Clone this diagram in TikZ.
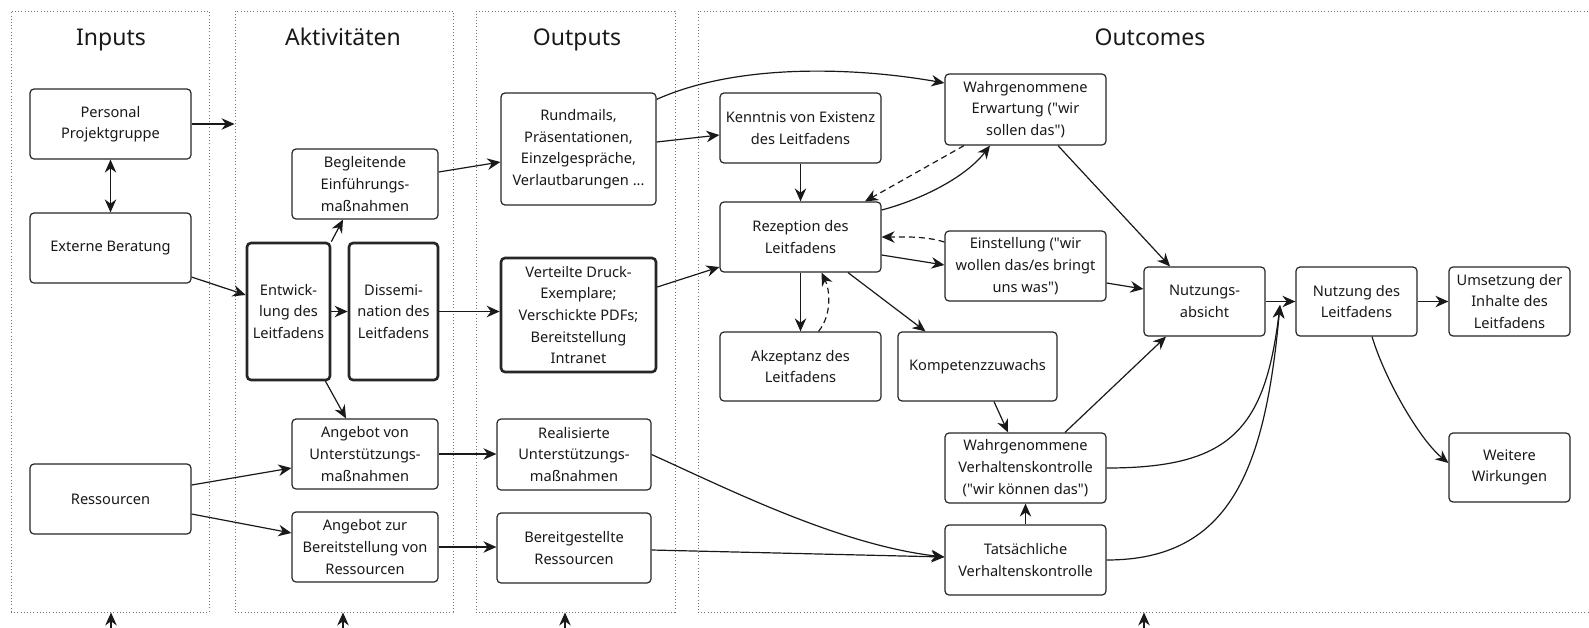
\documentclass[tikz,border=0pt]{standalone}
\usepackage{fontspec}
\setmainfont{Noto Sans}[Ligatures=TeXOff]
\usetikzlibrary{arrows.meta}

\begin{document}
\begin{tikzpicture}[x=1pt,y=-1pt,
  font=\fontsize{14.6}{21.6}\selectfont,
  box/.style 2 args={draw=black!85, line width=1.2pt, rounded corners=4pt,
    minimum width=#1pt, minimum height=#2pt, inner sep=0pt, align=center,
    text=black!90, fill=white},
  heavy/.style={line width=2.6pt},
  panel/.style={draw=black!55, line width=0.9pt, dash pattern=on 1pt off 2.2pt,
    inner sep=0pt, minimum width=#1},
  title/.style={font=\fontsize{23}{28}\selectfont, text=black!90, anchor=base},
  conn/.style={line width=1.2pt, draw=black!90,
    -{Stealth[length=13pt,width=11.5pt,inset=4.2pt]}},
  both/.style={line width=1.2pt, draw=black!90,
    {Stealth[length=13pt,width=11.5pt,inset=4.2pt]}-{Stealth[length=13pt,width=11.5pt,inset=4.2pt]}},
  dconn/.style={conn, dash pattern=on 6pt off 4pt},
]
\useasboundingbox (0,0) rectangle (1589,627);
\clip (0,0) rectangle (1589,627);

% column frames
\node[panel=198pt, minimum height=601pt] (pIn)  at (110,311.5) {};
\node[panel=218pt, minimum height=601pt] (pAk)  at (344,311.5) {};
\node[panel=199pt, minimum height=601pt] (pOut) at (575.5,311.5) {};
\node[panel=922pt, minimum height=601pt] (pOc)  at (1159,311.5) {};

% column titles
\node[title] (tIn)  at (111,45)  {Inputs};
\node[title] (tAk)  at (343,45)  {Aktivitäten};
\node[title] (tOut) at (577,45)  {Outputs};
\node[title] (tOc)  at (1150,45) {Outcomes};

% inputs
\node[box={161}{70}] (pers) at (110.5,124) {Personal\\Projektgruppe};
\node[box={161}{70}] (ext)  at (110.5,248) {Externe Beratung};
\node[box={161}{70}] (res)  at (110.5,499) {Ressourcen};

% activities
\node[box={146}{70}] (begl) at (365,184) {Begleitende\\Einführungs-\\maßnahmen};
\node[box={83}{137}, heavy] (entw) at (288.5,311.5) {Entwick-\\lung des\\Leitfadens};
\node[box={89}{137}, heavy] (diss) at (393.5,311.5) {Dissemi-\\nation des\\Leitfadens};
\node[box={146}{70}] (angU) at (365,454) {Angebot von\\Unterstützungs-\\maßnahmen};
\node[box={146}{70}] (angR) at (365,547) {Angebot zur\\Bereitstellung von\\Ressourcen};

% outputs
\node[box={155}{112}] (rund) at (578.5,149) {Rundmails,\\Präsentationen,\\Einzelgespräche,\\Verlautbarungen ...};
\node[box={155}{114}, heavy] (vert) at (578.5,315) {Verteilte Druck-\\Exemplare;\\Verschickte PDFs;\\Bereitstellung\\Intranet};
\node[box={154}{71}] (real)   at (574,454.5) {Realisierte\\Unterstützungs-\\maßnahmen};
\node[box={154}{70}] (bereit) at (574,548) {Bereitgestellte\\Ressourcen};

% outcomes
\node[box={161}{70}] (kennt) at (800.5,128) {Kenntnis von Existenz\\des Leitfadens};
\node[box={161}{70}] (rez)   at (800.5,237) {Rezeption des\\Leitfadens};
\node[box={161}{69}] (akz)   at (800.5,366.5) {Akzeptanz des\\Leitfadens};
\node[box={159}{69}] (komp)  at (977.5,366.5) {Kompetenzzuwachs};
\node[box={161}{71}] (erw)   at (1025.5,109.5) {Wahrgenommene\\Erwartung ("wir\\sollen das")};
\node[box={161}{70}] (einst) at (1025.5,266) {Einstellung ("wir\\wollen das/es bringt\\uns was")};
\node[box={161}{70}] (wvk)   at (1025.5,468) {Wahrgenommene\\Verhaltenskontrolle\\("wir können das")};
\node[box={161}{70}] (tvk)   at (1025.5,560) {Tatsächliche\\Verhaltenskontrolle};
\node[box={121}{69}] (nabs)  at (1204.5,301.5) {Nutzungs-\\absicht};
\node[box={121}{69}] (nutz)  at (1356.5,301.5) {Nutzung des\\Leitfadens};
\node[box={121}{69}] (ums)   at (1509.5,301.5) {Umsetzung der\\Inhalte des\\Leitfadens};
\node[box={121}{69}] (weit)  at (1509.5,467.5) {Weitere\\Wirkungen};

% free ends
\coordinate (nz) at (1280,305);
\coordinate (u1) at (111,650);
\coordinate (u2) at (343,650);
\coordinate (u3) at (565,650);
\coordinate (u4) at (1144,650);

% inputs -> activities
\draw[conn] (pers.east) -- (pers.east -| pAk.west);
\draw[both] (pers) -- (ext);
\draw[conn] ([yshift=-29pt]ext.east) -- ([yshift=16.5pt]entw.west);
\draw[conn] ([yshift=14pt]res.east) -- ([yshift=-14pt]angU.west);
\draw[conn] ([yshift=-15pt]res.east) -- ([yshift=14pt]angR.west);

% within activities
\draw[conn] (entw.north east) -- ([xshift=-22pt]begl.south);
\draw[conn] (entw) -- (diss);
\draw[conn] ([xshift=37pt]entw.south) -- ([xshift=-19pt]angU.north);

% activities -> outputs
\draw[conn] ([yshift=12pt]begl.east) -- ([yshift=-13pt]rund.west);
\draw[conn] (diss.east) -- (diss.east -| vert.west);
\draw[conn] (angU.east) -- (angU.east -| real.west);
\draw[conn] (angR.east) -- (angR.east -| bereit.west);

% outputs -> outcomes
\draw[conn] ([yshift=7pt]rund.east) -- ([yshift=-7pt]kennt.west);
\draw[conn] ([yshift=-7pt]rund.north east) .. controls (740,62) and (860,68) .. ([yshift=26.5pt]erw.west);
\draw[conn] ([yshift=28pt]vert.east) -- ([yshift=-30pt]rez.west);
\draw[conn] (real.east) .. controls (730,490) and (840,545) .. ([yshift=3pt]tvk.west);
\draw[conn] ([yshift=-2pt]bereit.east) -- ([yshift=3pt]tvk.west);

% within outcomes
\draw[conn] (kennt) -- (rez);
\draw[conn] (rez) -- (akz);
\draw[dconn] ([xshift=18pt]akz.north) .. controls (832,315) and (830,290) .. ([xshift=21pt]rez.south);
\draw[conn] ([xshift=47.5pt]rez.south) -- ([xshift=-52pt]komp.north);
\draw[conn] ([yshift=27pt]rez.east) .. controls (920,200) and (965,178) .. ([xshift=-35.5pt]erw.south);
\draw[dconn] ([xshift=-61.5pt]erw.south) -- ([xshift=64.5pt]rez.north);
\draw[dconn] ([yshift=24pt]einst.west) .. controls (925,236) and (905,237) .. (rez.east);
\draw[conn] ([yshift=-18pt]rez.east) -- ([yshift=1pt]einst.west);
\draw[conn] ([xshift=32.5pt]erw.south) -- ([xshift=-34.5pt]nabs.north);
\draw[conn] ([yshift=-17pt]einst.east) -- ([yshift=12.5pt]nabs.west);
\draw[conn] ([xshift=16.5pt]komp.south) -- ([xshift=-17.5pt]wvk.north);
\draw[conn] ([xshift=39.5pt]wvk.north) -- ([xshift=-38.5pt]nabs.south);
\draw[conn] (tvk) -- (wvk);
\draw[conn] (wvk.east) .. controls (1230,468) and (1265,430) .. (nz);
\draw[conn] (tvk.east) .. controls (1230,560) and (1265,470) .. (nz);
\draw[conn] (nabs) -- (nutz);
\draw[conn] (nutz) -- (ums);
\draw[conn] ([xshift=15.5pt]nutz.south) .. controls (1385,380) and (1420,440) .. ([yshift=4.5pt]weit.west);

% arrows entering the frames from below
\draw[conn] (u1) -- (u1 |- pIn.south);
\draw[conn] (u2) -- (u2 |- pAk.south);
\draw[conn] (u3) -- (u3 |- pOut.south);
\draw[conn] (u4) -- (u4 |- pOc.south);
\end{tikzpicture}
\end{document}
